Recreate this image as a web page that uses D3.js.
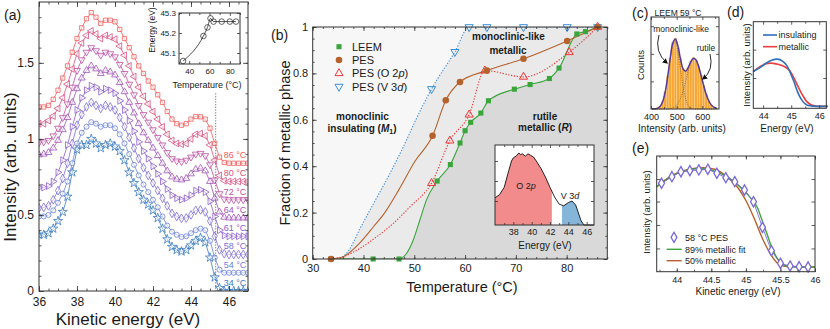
<!DOCTYPE html>
<meta charset="utf-8">
<style>
body { margin: 0; background: #fff; }
svg { display: block; font-family: "Liberation Sans", Arial, sans-serif; }
</style>
<body>
<script src="https://cdn.jsdelivr.net/npm/d3@7"></script>
<script>

// (a) stacked spectra, kinetic energy grid (eV)
var aE = [36,36.25,36.5,36.75,37,37.25,37.5,37.75,38,38.25,38.5,38.75,39,39.25,39.5,39.75,40,40.25,40.5,40.75,41,41.25,41.5,41.75,42,42.25,42.5,42.75,43,43.25,43.5,43.75,44,44.25,44.5,44.75,45,45.25,45.5,45.75,46,46.25,46.5,46.75,47];
var aTemps = [34, 54, 58, 61, 64, 72, 80, 86];
var c34 = [.37,.37,.38,.41,.46,.52,.62,.78,.93,.96,.96,1.0,.97,.94,.96,.97,.95,.92,.86,.78,.71,.65,.60,.57,.53,.48,.41,.34,.29,.27,.26,.27,.30,.33,.35,.32,.22,.09,.02,0,0,0,0,0,0];
var c54 = [.49,.49,.50,.53,.58,.64,.72,.84,.97,1.04,1.08,1.11,1.10,1.08,1.09,1.09,1.07,1.03,.97,.90,.83,.76,.70,.65,.60,.55,.49,.43,.39,.37,.355,.36,.38,.40,.41,.40,.33,.22,.14,.12,.12,.12,.12,.12,.12];
var c58 = [.545,.55,.56,.60,.66,.74,.84,.97,1.09,1.16,1.21,1.24,1.22,1.20,1.22,1.21,1.19,1.14,1.08,1.01,.94,.87,.81,.76,.71,.66,.61,.56,.51,.49,.478,.48,.50,.53,.533,.52,.46,.36,.27,.245,.24,.24,.24,.24,.24];
var c61 = [.68,.68,.69,.72,.78,.86,.96,1.08,1.19,1.27,1.32,1.35,1.34,1.31,1.33,1.32,1.30,1.25,1.19,1.12,1.05,.98,.92,.87,.82,.77,.72,.67,.63,.61,.60,.61,.63,.66,.665,.65,.59,.49,.40,.365,.36,.36,.36,.36,.36];
var c64 = [.895,.90,.91,.94,.99,1.06,1.14,1.24,1.33,1.40,1.45,1.48,1.46,1.43,1.45,1.44,1.42,1.37,1.31,1.24,1.17,1.10,1.04,.99,.94,.89,.84,.79,.75,.735,.73,.74,.77,.80,.807,.79,.72,.61,.52,.485,.48,.48,.48,.48,.48];
var c72 = [.975,.98,.99,1.02,1.07,1.14,1.23,1.34,1.45,1.52,1.57,1.60,1.58,1.55,1.57,1.56,1.54,1.49,1.43,1.36,1.29,1.22,1.16,1.11,1.06,1.01,.96,.91,.87,.855,.85,.86,.88,.90,.905,.89,.83,.73,.64,.605,.60,.60,.60,.60,.60];
var c80 = [1.10,1.10,1.12,1.15,1.20,1.27,1.36,1.46,1.56,1.63,1.68,1.71,1.69,1.66,1.68,1.67,1.655,1.61,1.55,1.48,1.41,1.34,1.28,1.23,1.18,1.13,1.08,1.03,.99,.97,.965,.97,1.00,1.03,1.035,1.02,.96,.86,.76,.725,.72,.72,.72,.72,.72];
var c86 = [1.21,1.21,1.22,1.26,1.32,1.40,1.48,1.57,1.66,1.73,1.79,1.83,1.80,1.76,1.78,1.78,1.77,1.72,1.66,1.60,1.54,1.48,1.43,1.38,1.34,1.29,1.24,1.18,1.13,1.10,1.09,1.10,1.13,1.147,1.145,1.13,1.07,.97,.88,.845,.84,.84,.84,.84,.84];
var aSeries = [c34, c54, c58, c61, c64, c72, c80, c86];

// (a) inset: edge energy vs temperature
var edgeT = [34, 54, 58, 61, 64, 72, 80, 86];
var edgeE = [45.06, 45.185, 45.228, 45.273, 45.257, 45.257, 45.257, 45.257];

// (b) fraction of metallic phase
var leemT = [33.6, 41.9, 47.0, 54.5, 57.1, 59.0, 60.0, 61.1, 63.1, 64.6, 69.7, 72.8, 76.6, 78.5, 82.0, 83.7, 86.1];
var leemF = [0, 0, 0, 0.336, 0.407, 0.50, 0.553, 0.589, 0.629, 0.682, 0.732, 0.752, 0.778, 0.823, 0.97, 0.98, 1.0];
var leemFitT = [48.5, 49.8, 51.1, 52.4];
var leemFitF = [0.025, 0.082, 0.168, 0.255];
var pesT = [33.6, 53.6, 56.2, 59.0, 64.3, 71.5, 80.1, 86.1];
var pesF = [0, 0.531, 0.684, 0.763, 0.812, 0.863, 0.94, 1.0];
var pesFitT = [36, 39.3, 42, 44.2, 47, 50.1];
var pesFitF = [0.01, 0.07, 0.14, 0.2, 0.3, 0.42];
var o2pT = [53.4, 57.0, 60.8, 63.9, 71.5, 80.5, 86.1];
var o2pF = [0.327, 0.51, 0.622, 0.812, 0.785, 0.891, 1.0];
var o2pFitT = [33.6, 36, 39.3, 42.6, 45.9, 49.2];
var o2pFitF = [0, 0.01, 0.046, 0.096, 0.154, 0.226];
var v3dT = [53.4, 58.0, 60.8, 64.3, 71.5, 80.1, 86.1];
var v3dF = [0.733, 0.893, 1, 1, 1, 1, 1];
var v3dFitT = [35.4, 37.2, 39.3, 42, 45, 48.5, 50.3];
var v3dFitF = [0, 0.04, 0.13, 0.24, 0.36, 0.514, 0.6];

// (b) inset spectrum
var biE = [36,36.5,37,37.5,37.8,38,38.3,38.6,38.8,39,39.3,39.6,39.9,40.2,40.5,41,41.5,42,42.5,43,43.5,44,44.4,44.8,45.1,45.4,45.7,46.8];
var biI = [.34,.38,.47,.68,.80,.84,.86,.90,.88,.89,.86,.89,.87,.85,.80,.71,.60,.47,.35,.26,.24,.28,.30,.25,.15,.05,0,0];

// (c) LEEM histogram, 59 C
var cBins = [405,415,425,435,445,455,465,475,485,495,505,515,525,535,545,555,565,575,585,595,605,615,625,635,645,655];
var cCounts = [0.5,1,1.5,3,8,19,36,55,72,77,67,55,44,42,45,52,56,53,47,37,26,16,9,4.5,2,1];
var cFit1 = [0,0.2,0.7,2.6,7.6,18,34.9,54.9,70.4,73.3,62.2,42.8,24,11,4.1,1.2,0.3,0,0,0,0,0,0,0,0,0];
var cFit2 = [0,0,0,0,0,0.05,0.15,0.45,1.2,2.8,6.1,11.5,19.7,30,41,50,54.7,53.5,46.8,36.7,25.7,16.1,9,4.5,2,0.8];

// (d) reference spectra
var dInsE = [43.65,43.9,44.1,44.3,44.5,44.7,44.85,45.0,45.1,45.2,45.3,45.4,45.5,45.6,45.8,46.0,46.3];
var dInsI = [0.737,0.826,0.91,0.975,1.0,0.953,0.858,0.667,0.52,0.35,0.21,0.117,0.053,0.02,0.005,0,0];
var dMetE = [43.65,43.9,44.1,44.25,44.5,44.75,44.95,45.1,45.25,45.4,45.55,45.7,45.85,46.0,46.3];
var dMetI = [0.737,0.847,0.9,0.915,0.894,0.843,0.752,0.597,0.413,0.244,0.106,0.036,0.01,0,0];

// (e) 58 C PES with fits
var eE = [43.78,43.93,44.06,44.19,44.32,44.45,44.58,44.71,44.84,44.98,45.11,45.24,45.37,45.50,45.64,45.77,45.90];
var ePes = [0.857,0.924,0.975,0.986,0.993,1.0,0.959,0.914,0.873,0.788,0.668,0.406,0.167,0.038,0.01,0.003,0];
var e89E = [43.71,43.85,44.0,44.15,44.3,44.45,44.6,44.77,44.9,45.01,45.1,45.16,45.25,45.31,45.37,45.42,45.47,45.53,45.59,45.7,46];
var e89I = [0.822,0.895,0.955,0.99,1.008,1.0,0.965,0.905,0.83,0.754,0.68,0.617,0.447,0.33,0.208,0.13,0.072,0.03,0.01,0.002,0];
var e50E = [43.71,43.85,44.0,44.15,44.38,44.55,44.77,44.89,45.01,45.13,45.25,45.35,45.47,45.59,46];
var e50I = [0.822,0.9,0.96,0.995,1.016,1.0,0.895,0.806,0.668,0.481,0.276,0.14,0.031,0.005,0];

var svg = d3.select("body").append("svg")
    .attr("width", 830)
    .attr("height", 329);

var defs = svg.append("defs");
defs.append("marker").attr("id", "arrow")
    .attr("viewBox", "0 0 8 8").attr("refX", 6).attr("refY", 4)
    .attr("markerWidth", 6).attr("markerHeight", 6).attr("orient", "auto")
  .append("path").attr("d", "M0,0L8,4L0,8z").attr("fill", "#111");

function clip(id, x0, y0, x1, y1) {
  defs.append("clipPath").attr("id", id).append("rect")
      .attr("x", x0).attr("y", y0).attr("width", x1 - x0).attr("height", y1 - y0);
  return "url(#" + id + ")";
}

function text(x, y, s, size, anchor) {
  return svg.append("text").attr("x", x).attr("y", y)
      .attr("font-size", size).attr("text-anchor", anchor || "start")
      .attr("fill", "#1a1a1a").text(s);
}

function vtext(x, y, s, size) {
  return svg.append("text").attr("transform", "translate(" + x + "," + y + ") rotate(-90)")
      .attr("font-size", size).attr("text-anchor", "middle")
      .attr("fill", "#1a1a1a").text(s);
}

// framed axes with inward ticks on all four sides
function axes(x, y, o) {
  var g = svg.append("g");
  var xr = x.range(), yr = y.range();
  var none = function() { return ""; },
      lab = o.fmt || function(d) { return String(d); };
  function put(gen, dx, dy, vals, size, fmt, pad) {
    if (!vals) return;
    var a = g.append("g").attr("transform", "translate(" + dx + "," + dy + ")")
        .call(gen.tickValues(vals).tickSize(-size).tickPadding(pad || 0).tickFormat(fmt));
    a.select(".domain").remove();
    a.attr("font-family", null).attr("font-size", o.fs);
    a.selectAll("line").attr("stroke", "#333").attr("stroke-width", 0.8);
    a.selectAll("text").attr("fill", "#1a1a1a");
  }
  var t = o.tick || 4, m = o.minor || 2;
  put(d3.axisBottom(x), 0, yr[0], o.xMajor, t, o.xLab === false ? none : lab, o.xPad);
  put(d3.axisBottom(x), 0, yr[0], o.xMinor, m, none);
  put(d3.axisTop(x), 0, yr[1], o.xMajor, t, none);
  put(d3.axisTop(x), 0, yr[1], o.xMinor, m, none);
  put(d3.axisLeft(y), xr[0], 0, o.yMajor, t, o.yLab ? lab : none, o.yPad);
  put(d3.axisLeft(y), xr[0], 0, o.yMinor, m, none);
  put(d3.axisRight(y), xr[1], 0, o.yMajor, t, none);
  put(d3.axisRight(y), xr[1], 0, o.yMinor, m, none);
  g.append("rect").attr("x", xr[0]).attr("y", yr[1])
      .attr("width", xr[1] - xr[0]).attr("height", yr[0] - yr[1])
      .attr("fill", "none").attr("stroke", "#333").attr("stroke-width", 1);
  return g;
}

function pairs(a, b) { return a.map(function(v, i) { return [v, b[i]]; }); }

// ---------------- (a) ----------------
var xA = d3.scaleLinear().domain([36, 47]).range([39, 248]),
    yA = d3.scaleLinear().domain([0, 1.9]).range([291, 2]);

var aColors = ["#3a7bc2", "#6a80d8", "#7c6cd6", "#8c5ccb", "#a052b8", "#bb4fa2", "#d84f7c", "#f25a5a"];
var aShapes = [[d3.symbolStar, 26, 0], [d3.symbolCircle, 20, 0], [d3.symbolDiamond, 22, 0],
               [d3.symbolTriangle, 20, 90], [d3.symbolTriangle, 20, 0], [d3.symbolTriangle, 20, 180],
               [d3.symbolTriangle, 20, 270], [d3.symbolSquare, 18, 0]];

var gA = svg.append("g").attr("clip-path", clip("clipA", 39, 2, 248, 291));
var lineA = d3.line().x(function(d) { return xA(d[0]); }).y(function(d) { return yA(d[1]); });

svg.append("line")
    .attr("x1", xA(45.3)).attr("x2", xA(45.3)).attr("y1", yA(1.3)).attr("y2", yA(0))
    .attr("stroke", "#555").attr("stroke-width", 0.8).attr("stroke-dasharray", "1.2,1.5");

aSeries.forEach(function(vals, i) {
  var pts = pairs(aE, vals), sh = aShapes[i];
  gA.append("path").datum(pts).attr("d", lineA)
      .attr("fill", "none").attr("stroke", aColors[i]).attr("stroke-width", 0.8);
  gA.selectAll(null).data(pts).enter().append("path")
      .attr("transform", function(d) { return "translate(" + xA(d[0]) + "," + yA(d[1]) + ") rotate(" + sh[2] + ")"; })
      .attr("d", d3.symbol(sh[0], sh[1]))
      .attr("fill", "#fff").attr("fill-opacity", 0.5)
      .attr("stroke", aColors[i]).attr("stroke-width", 0.8);
  text(xA(45.72), yA(vals[vals.length - 1] + 0.055) + 3.2, aTemps[i] + " \u00b0C", 9)
      .attr("fill", aColors[i]);
});

axes(xA, yA, {
  xMajor: [36, 38, 40, 42, 44, 46], xMinor: d3.range(36, 47.01, 0.5),
  yMajor: [0, 0.5, 1, 1.5], yMinor: d3.range(0, 1.9, 0.1),
  yLab: true, fs: 12, xPad: 6, yPad: 5, tick: 5, minor: 2.5
});
vtext(16, 167, "Intensity (arb. units)", 17);
text(128, 325, "Kinetic energy (eV)", 17, "middle");
text(4, 20, "(a)", 14);

// (a) inset
var xAI = d3.scaleLinear().domain([30, 90]).range([179, 240]),
    yAI = d3.scaleLinear().domain([45.045, 45.3]).range([64, 13]);
svg.append("rect").attr("x", 179).attr("y", 13).attr("width", 61).attr("height", 51).attr("fill", "#fff");
svg.append("path").datum(pairs(edgeT, edgeE))
    .attr("d", d3.line().x(function(d) { return xAI(d[0]); }).y(function(d) { return yAI(d[1]); }).curve(d3.curveMonotoneX))
    .attr("fill", "none").attr("stroke", "#222").attr("stroke-width", 0.8);
svg.selectAll(null).data(pairs(edgeT, edgeE)).enter().append("circle")
    .attr("cx", function(d) { return xAI(d[0]); }).attr("cy", function(d) { return yAI(d[1]); })
    .attr("r", 2.8).attr("fill", "none").attr("stroke", "#222").attr("stroke-width", 0.7);
axes(xAI, yAI, {
  xMajor: [40, 60, 80], xMinor: [30, 50, 70, 90],
  yMajor: [45.1, 45.2, 45.3], yLab: true, fs: 8, xPad: 4, yPad: 3, tick: 3, minor: 2
});
vtext(155, 30, "Energy (eV)", 8.5);
text(207, 88, "Temperature (\u00b0C)", 9, "middle");

// ---------------- (b) ----------------
var xB = d3.scaleLinear().domain([30, 88]).range([312.7, 607.3]),
    yB = d3.scaleLinear().domain([0, 1]).range([259, 27]);
var lineB = d3.line().x(function(d) { return xB(d[0]); }).y(function(d) { return yB(d[1]); }).curve(d3.curveMonotoneX);

var v3dLine = pairs(v3dFitT, v3dFitF).concat(pairs(v3dT, v3dF));
var leemLine = pairs(leemT.slice(0, 3), leemF.slice(0, 3)).concat(pairs(leemFitT, leemFitF), pairs(leemT.slice(3), leemF.slice(3)));
var leemEdge = leemLine.slice(2);
var pesLine = [[pesT[0], pesF[0]]].concat(pairs(pesFitT, pesFitF), pairs(pesT.slice(1), pesF.slice(1)));
var o2pLine = pairs(o2pFitT, o2pFitF).concat(pairs(o2pT, o2pF));

var gB = svg.append("g").attr("clip-path", clip("clipB", 312.7, 27, 607.3, 259));
gB.append("rect").attr("x", 312.7).attr("y", 27).attr("width", 294.6).attr("height", 232).attr("fill", "#f7f7f7");
var close = "L" + xB(88) + "," + yB(1) + "L" + xB(88) + "," + yB(0) + "Z";
gB.append("path").attr("d", lineB(v3dLine) + close).attr("fill", "#eaeaea");
gB.append("path").attr("d", lineB(leemEdge) + close).attr("fill", "#d9d9d9");

gB.append("path").attr("d", lineB(v3dLine)).attr("fill", "none")
    .attr("stroke", "#3b8fd8").attr("stroke-width", 1.1).attr("stroke-dasharray", "1.3,1.6");
gB.append("path").attr("d", lineB(o2pLine)).attr("fill", "none")
    .attr("stroke", "#f03535").attr("stroke-width", 1.1).attr("stroke-dasharray", "1.3,1.6");
gB.append("path").attr("d", lineB(leemLine)).attr("fill", "none")
    .attr("stroke", "#3aa53a").attr("stroke-width", 1.1);
gB.append("path").attr("d", lineB(pesLine)).attr("fill", "none")
    .attr("stroke", "#b5622d").attr("stroke-width", 1.1);

function markB(t, f, type, size, rot, fill, stroke) {
  svg.selectAll(null).data(pairs(t, f)).enter().append("path")
      .attr("transform", function(d) { return "translate(" + xB(d[0]) + "," + yB(d[1]) + ") rotate(" + rot + ")"; })
      .attr("d", d3.symbol(type, size))
      .attr("fill", fill).attr("stroke", stroke).attr("stroke-width", 1);
}
markB(leemT, leemF, d3.symbolSquare, 26, 0, "#3aa53a", "none");
markB(o2pT, o2pF, d3.symbolTriangle, 28, 0, "none", "#f03535");
markB(v3dT, v3dF, d3.symbolTriangle, 28, 180, "none", "#3b8fd8");
markB(pesT, pesF, d3.symbolCircle, 34, 0, "#b5622d", "none");

axes(xB, yB, {
  xMajor: [30, 40, 50, 60, 70, 80], xMinor: d3.range(30, 88.1, 2),
  yMajor: [0, 0.2, 0.4, 0.6, 0.8, 1], yMinor: d3.range(0, 1.01, 0.05),
  yLab: true, fs: 11, xPad: 5, yPad: 4.5, tick: 4, minor: 2
});
vtext(290, 143, "Fraction of metallic phase", 14.5);
text(462, 292, "Temperature (\u00b0C)", 14.5, "middle");
text(271, 40, "(b)", 14);

// legend (b)
var legB = [["LEEM", d3.symbolSquare, 26, 0, "#3aa53a", "none"],
            ["PES", d3.symbolCircle, 34, 0, "#b5622d", "none"],
            ["PES (O 2p)", d3.symbolTriangle, 28, 0, "none", "#f03535"],
            ["PES (V 3d)", d3.symbolTriangle, 28, 180, "none", "#3b8fd8"]];
legB.forEach(function(l, i) {
  var y = 46.7 + i * 13.3;
  svg.append("path").attr("transform", "translate(339," + y + ") rotate(" + l[3] + ")")
      .attr("d", d3.symbol(l[1], l[2])).attr("fill", l[4]).attr("stroke", l[5]).attr("stroke-width", 1);
  var t = text(352, y + 4, "", 11);
  if (i < 2) t.text(l[0]);
  else {
    var p = l[0].split(" ");
    t.append("tspan").text(p[0] + " " + p[1] + " " + p[2].charAt(0));
    t.append("tspan").attr("font-style", "italic").text(p[2].charAt(1));
    t.append("tspan").text(")");
  }
});

// phase labels
function bold(x, y, s) { return text(x, y, s, 10, "middle").attr("font-weight", "bold"); }
bold(362.5, 120.3, "monoclinic");
var ins = bold(362, 131.5, "insulating (");
ins.append("tspan").attr("font-style", "italic").text("M");
ins.append("tspan").attr("font-size", 7).attr("dy", 2).text("1");
ins.append("tspan").attr("dy", -2).text(")");
bold(508.5, 40.3, "monoclinic-like");
bold(508, 53.6, "metallic");
bold(545, 120.3, "rutile");
var rut = bold(545, 131.3, "metallic (");
rut.append("tspan").attr("font-style", "italic").text("R");
rut.append("tspan").text(")");

// (b) inset
var xBI = d3.scaleLinear().domain([36, 46.8]).range([495, 594]),
    yBI = d3.scaleLinear().domain([0, 1]).range([225, 145]);
svg.append("rect").attr("x", 495).attr("y", 145).attr("width", 99).attr("height", 80).attr("fill", "#fff");
var areaBI = d3.area().x(function(d) { return xBI(d[0]); }).y0(yBI(0)).y1(function(d) { return yBI(d[1]); });
var spec = pairs(biE, biI);
svg.append("path").datum(spec).attr("d", areaBI).attr("fill", "#f28b8b")
    .attr("clip-path", clip("clipO", xBI(36), 140, xBI(42.2), 230));
svg.append("path").datum(spec).attr("d", areaBI).attr("fill", "#86b5da")
    .attr("clip-path", clip("clipV", xBI(43.3), 140, xBI(45.6), 230));
svg.append("path").datum(spec)
    .attr("d", d3.line().x(function(d) { return xBI(d[0]); }).y(function(d) { return yBI(d[1]); }))
    .attr("fill", "none").attr("stroke", "#111").attr("stroke-width", 0.9);
axes(xBI, yBI, {
  xMajor: [38, 40, 42, 44, 46], xMinor: [37, 39, 41, 43, 45],
  yMajor: [0.3, 0.55, 0.8], fs: 9, xPad: 4, tick: 3, minor: 2
});
var o2 = text(526, 189, "O 2", 9, "middle");
o2.append("tspan").attr("font-style", "italic").text("p");
var v3 = text(570, 198.5, "V 3", 9, "middle");
v3.append("tspan").attr("font-style", "italic").text("d");
text(545, 249, "Energy (eV)", 10, "middle");

// ---------------- (c) ----------------
var xC = d3.scaleLinear().domain([400, 665]).range([651, 719]),
    yC = d3.scaleLinear().domain([0, 100]).range([109, 17]);
svg.selectAll(null).data(pairs(cBins, cCounts)).enter().append("rect")
    .attr("x", function(d) { return xC(d[0] - 5); })
    .attr("width", xC(10) - xC(0))
    .attr("y", function(d) { return yC(d[1]); })
    .attr("height", function(d) { return yC(0) - yC(d[1]); })
    .attr("fill", "#f7a634").attr("stroke", "#fcd69c").attr("stroke-width", 0.4);
var lineC = d3.line().x(function(d) { return xC(d[0]); }).y(function(d) { return yC(d[1]); }).curve(d3.curveCatmullRom);
[cFit1, cFit2].forEach(function(f) {
  svg.append("path").attr("d", lineC(pairs(cBins, f))).attr("fill", "none")
      .attr("stroke", "#666").attr("stroke-width", 0.9).attr("stroke-dasharray", "1,1.3");
});
svg.append("path").attr("d", lineC(cBins.map(function(b, i) { return [b, cFit1[i] + cFit2[i]]; })))
    .attr("fill", "none").attr("stroke", "#553a9a").attr("stroke-width", 1.5);
axes(xC, yC, {
  xMajor: [400, 500, 600], xMinor: [450, 550, 650],
  yMajor: [30, 60, 90], fs: 9, xPad: 4.5, tick: 3, minor: 2
});
text(632, 18, "(c)", 14);
text(678, 15.5, "LEEM 59 \u00b0C", 8.5, "middle");
text(681, 32, "monoclinic-like", 8.5, "middle");
text(706, 51, "rutile", 8.5, "middle");
svg.append("path").attr("d", "M659,35 Q654,52 667,63").attr("fill", "none")
    .attr("stroke", "#111").attr("stroke-width", 0.9).attr("marker-end", "url(#arrow)");
svg.append("path").attr("d", "M710,54 Q714,70 703,79").attr("fill", "none")
    .attr("stroke", "#111").attr("stroke-width", 0.9).attr("marker-end", "url(#arrow)");
vtext(643.5, 65, "Counts", 9.5);
text(682, 132, "Intensity (arb. units)", 10, "middle");

// ---------------- (d) ----------------
var xD = d3.scaleLinear().domain([43.65, 46.25]).range([753.3, 826.3]),
    yD = d3.scaleLinear().domain([-0.04, 1.79]).range([108.3, 21.7]);
var lineD = d3.line().x(function(d) { return xD(d[0]); }).y(function(d) { return yD(d[1]); }).curve(d3.curveMonotoneX);
svg.append("path").attr("d", lineD(pairs(dMetE, dMetI))).attr("fill", "none")
    .attr("stroke", "#ec3f3f").attr("stroke-width", 1.6);
svg.append("path").attr("d", lineD(pairs(dInsE, dInsI))).attr("fill", "none")
    .attr("stroke", "#2d6fba").attr("stroke-width", 1.6);
axes(xD, yD, {
  xMajor: [44, 45, 46], xMinor: [44.5, 45.5],
  yMajor: [0.6, 1.2], fs: 9, xPad: 4.5, tick: 3, minor: 2
});
text(727, 17, "(d)", 14);
[["insulating", "#2d6fba", 35], ["metallic", "#ec3f3f", 46.7]].forEach(function(l) {
  svg.append("line").attr("x1", 763).attr("x2", 777).attr("y1", l[2]).attr("y2", l[2])
      .attr("stroke", l[1]).attr("stroke-width", 1.6);
  text(778.5, l[2] + 3.2, l[0], 9);
});
vtext(749.5, 65, "Intensity (arb. units)", 9.5);
text(787, 132, "Energy (eV)", 10, "middle");

// ---------------- (e) ----------------
var xE = d3.scaleLinear().domain([43.71, 46]).range([656.7, 815]),
    yE = d3.scaleLinear().domain([-0.048, 1.136]).range([271.7, 156]);
var lineE = d3.line().x(function(d) { return xE(d[0]); }).y(function(d) { return yE(d[1]); }).curve(d3.curveMonotoneX);
svg.append("path").attr("d", lineE(pairs(e50E, e50I))).attr("fill", "none")
    .attr("stroke", "#b8602a").attr("stroke-width", 1.4);
svg.append("path").attr("d", lineE(pairs(e89E, e89I))).attr("fill", "none")
    .attr("stroke", "#3ca43c").attr("stroke-width", 1.4);
svg.append("path").attr("d", d3.line().x(function(d) { return xE(d[0]); }).y(function(d) { return yE(d[1]); })(pairs(eE, ePes)))
    .attr("fill", "none").attr("stroke", "#7a68d8").attr("stroke-width", 0.9);
svg.selectAll(null).data(pairs(eE, ePes)).enter().append("path")
    .attr("transform", function(d) { return "translate(" + xE(d[0]) + "," + yE(d[1]) + ")"; })
    .attr("d", d3.symbol(d3.symbolDiamond, 30))
    .attr("fill", "#fff").attr("stroke", "#7a68d8").attr("stroke-width", 1.3);
axes(xE, yE, {
  xMajor: [44, 44.5, 45, 45.5, 46], xMinor: d3.range(43.75, 46.01, 0.25),
  yMajor: [0.19, 0.43, 0.67, 0.9], fs: 9, xPad: 5, tick: 3.5, minor: 2
});
text(632, 153, "(e)", 14);
vtext(649.5, 212, "Intensity (arb. units)", 9.5);
text(738, 295, "Kinetic energy (eV)", 10, "middle");
svg.append("path").attr("transform", "translate(674,237.3)")
    .attr("d", d3.symbol(d3.symbolDiamond, 30))
    .attr("fill", "#fff").attr("stroke", "#7a68d8").attr("stroke-width", 1.3);
text(685, 240.5, "58 \u00b0C PES", 9);
[["89% metallic fit", "#3ca43c", 249.3], ["50% metallic", "#b8602a", 260.7]].forEach(function(l) {
  svg.append("line").attr("x1", 666.7).attr("x2", 681.7).attr("y1", l[2]).attr("y2", l[2])
      .attr("stroke", l[1]).attr("stroke-width", 1.4);
  text(685, l[2] + 3.2, l[0], 9);
});

</script>
